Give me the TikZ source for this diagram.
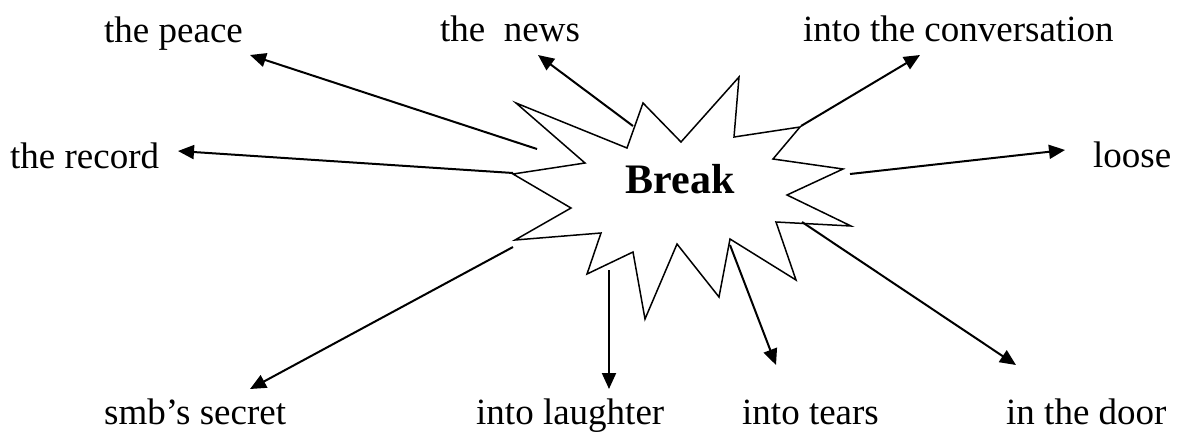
\documentclass[tikz,border=0pt]{standalone}
\usepackage{fontspec}
\setmainfont{Liberation Serif}
\usetikzlibrary{arrows.meta}
\begin{document}
\begin{tikzpicture}[x=1pt,y=-1pt,
  lbl/.style={anchor=base west,inner sep=0pt,font=\fontsize{37}{40}\selectfont},
  conn/.style={line width=2pt,-{Triangle[length=16pt,width=14pt]}},
  starline/.style={line width=1.5pt,line join=miter}]
\useasboundingbox (0,0) rectangle (1181,432);
% star
\draw[starline] (516,103) -- (627,148) -- (643,103) -- (681,142) -- (739,77) -- (734,137)
  -- (800,127) -- (773,159) -- (843,169) -- (787,195) -- (851,226) -- (776,222)
  -- (796,280) -- (730,239) -- (719,297) -- (677,244) -- (645,319) -- (633,252)
  -- (587,274) -- (601,233) -- (515,240) -- (571,208) -- (513,174) -- (585,163) -- cycle;
\node[anchor=base,inner sep=0pt,font=\fontsize{42}{46}\selectfont\bfseries] (break) at (680,193) {Break};
% labels
\node[lbl] (peace) at (104,42) {the peace};
\node[lbl] (news) at (440,41) {the\ \ news};
\node[lbl] (conv) at (803,41) {into the conversation};
\node[lbl] (record) at (10,168) {the record};
\node[lbl] (loose) at (1093,167) {loose};
\node[lbl] (secret) at (104,424) {smb’s secret};
\node[lbl] (laugh) at (476,424) {into laughter};
\node[lbl] (tears) at (742,424) {into tears};
\node[lbl] (door) at (1006,424) {in the door};
% connector ends
\coordinate (sPeace) at (537,149);   \coordinate (tPeace) at (250,55);
\coordinate (sNews) at (633,126);    \coordinate (tNews) at (538,55);
\coordinate (sConv) at (801,126);    \coordinate (tConv) at (920,55);
\coordinate (sRecord) at (513,173);  \coordinate (tRecord) at (178,151);
\coordinate (sLoose) at (850,174);   \coordinate (tLoose) at (1065,150);
\coordinate (sSecret) at (513,247);  \coordinate (tSecret) at (250,389);
\coordinate (sLaugh) at (609,270);   \coordinate (tLaugh) at (609,389);
\coordinate (sTears) at (730,245);   \coordinate (tTears) at (776,365);
\coordinate (sDoor) at (802,222);    \coordinate (tDoor) at (1016,365);
\draw[conn] (sPeace) -- (tPeace);
\draw[conn] (sNews) -- (tNews);
\draw[conn] (sConv) -- (tConv);
\draw[conn] (sRecord) -- (tRecord);
\draw[conn] (sLoose) -- (tLoose);
\draw[conn] (sSecret) -- (tSecret);
\draw[conn] (sLaugh) -- (tLaugh);
\draw[conn] (sTears) -- (tTears);
\draw[conn] (sDoor) -- (tDoor);
\end{tikzpicture}
\end{document}
